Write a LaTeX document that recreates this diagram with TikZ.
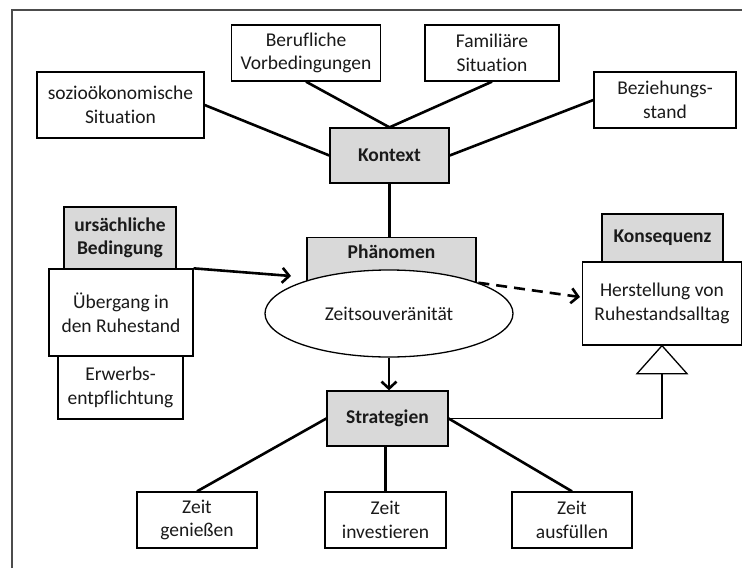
\documentclass[tikz,border=0pt]{standalone}
\usepackage{fontspec}
\setmainfont{Carlito}[Ligatures=NoCommon]
\usetikzlibrary{arrows.meta,shapes.geometric,calc}
\definecolor{boxgray}{HTML}{D9D9D9}
\definecolor{txt}{HTML}{1A1A1A}
\begin{document}
\begin{tikzpicture}[x=1pt,y=-1pt,
  every node/.style={font=\fontsize{19.5}{23.5}\selectfont, align=center, inner sep=0pt, text=txt},
  box/.style={draw=black, line width=1.3pt, fill=white, rectangle},
  gbox/.style={box, fill=boxgray, font=\fontsize{19.5}{23.5}\selectfont\bfseries},
  conn/.style={line width=2.6pt, black},
  arr/.style={conn, -{Straight Barb[length=7pt,width=15pt]}},
]
\fill[white] (0,0) rectangle (742,568);
\useasboundingbox (0,0) rectangle (742,568);
% frame
\draw[line width=1.5pt, black!70] (12,568) -- (12,10) -- (742,10);

% context boxes
\node[box, minimum width=167pt, minimum height=66pt] (sozio) at (120.5,105) {sozioökonomische\\Situation};
\node[box, minimum width=149pt, minimum height=56pt] (beruf) at (306,53) {Berufliche\\Vorbedingungen};
\node[box, minimum width=134pt, minimum height=56pt] (famil) at (492,53) {Familiäre\\Situation};
\node[box, minimum width=142pt, minimum height=56pt] (bezieh) at (665,100) {Beziehungs-\\stand};
\node[gbox, minimum width=119pt, minimum height=55pt] (kontext) at (389.5,155.5) {Kontext};

\draw[conn] (sozio.east) -- (kontext.west);
\draw[conn] (bezieh.west) -- (kontext.east);
\draw[conn] (beruf.south) -- (kontext.north);
\draw[conn] (famil.south) -- (kontext.north);

% phenomenon
\node[gbox, minimum width=169pt, minimum height=55pt, anchor=north] (phaen) at (391.5,237) {};
\node[font=\fontsize{19.5}{23.5}\selectfont\bfseries] (phaenlabel) at (391.5,252) {Phänomen};
\draw[conn] (kontext.south) -- (kontext.south |- phaen.north);
\node[draw=black, line width=1.3pt, fill=white, ellipse, minimum width=248pt, minimum height=87pt] (ell) at (389,313.5) {Zeitsouveränität};

% causal condition
\node[gbox, minimum width=112pt, minimum height=62pt] (ursach) at (120,238) {ursächliche\\Bedingung};
\node[box, minimum width=125pt, minimum height=63pt] (erwerb) at (120.5,387.5) {Erwerbs-\\entpflichtung};
\node[box, minimum width=144pt, minimum height=87pt] (ueber) at (121,312.5) {Übergang in\\den Ruhestand};

\coordinate (a1) at (291,276);
\draw[arr] (ueber.north east) -- (a1);

% consequence
\node[gbox, minimum width=121pt, minimum height=48pt] (konseq) at (662.5,238) {Konsequenz};
\node[box, minimum width=159pt, minimum height=83pt] (herst) at (662,303.5) {Herstellung von\\Ruhestandsalltag};
\coordinate (b1) at (580,297);
\draw[arr, dashed, dash pattern=on 11pt off 7pt] (ell.19) -- (b1);

% strategies
\node[gbox, minimum width=121pt, minimum height=55pt] (strat) at (387.5,418.5) {Strategien};
\draw[arr] (ell.south) -- (ell.south |- strat.north);

\coordinate (tapex) at (herst.south);
\coordinate (tbase) at ($(tapex)+(0,28)$);
\draw[line width=1.3pt, black, fill=white] (tapex) -- ++(-25,28) -- ++(50,0) -- cycle;
\draw[line width=1.8pt, black] (strat.east) -| (tbase);

\node[box, minimum width=120pt, minimum height=56pt] (z1) at (197,520) {Zeit\\genießen};
\node[box, minimum width=121pt, minimum height=56pt] (z2) at (385.5,520) {Zeit\\investieren};
\node[box, minimum width=120pt, minimum height=56pt] (z3) at (572,520) {Zeit\\ausfüllen};

\draw[conn] (strat.west) -- (z1.north);
\draw[conn] (strat.south -| z2.north) -- (z2.north);
\draw[conn] (strat.east) -- (z3.north);
\end{tikzpicture}
\end{document}
